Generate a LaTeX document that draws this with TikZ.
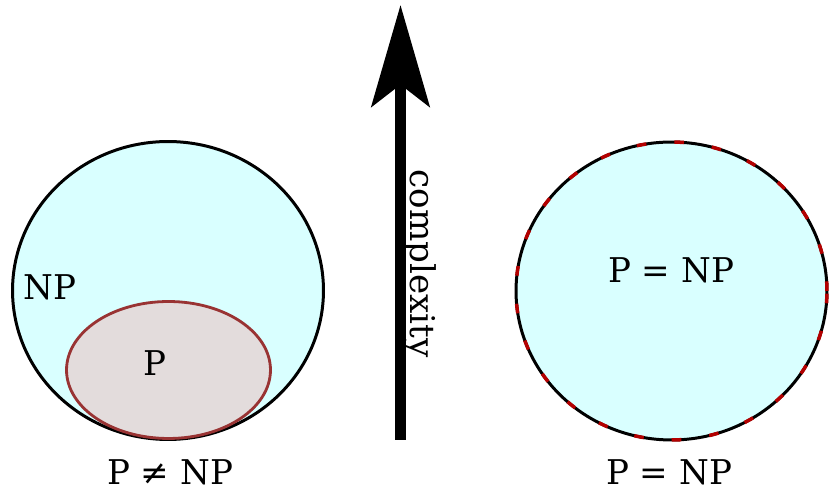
\documentclass[tikz,border=0pt]{standalone}
\usepackage{fontspec}
\setmainfont{DejaVu Serif}
\usetikzlibrary{arrows.meta,positioning,shapes.geometric}
\definecolor{SetCyan}{HTML}{D9FFFF}
\definecolor{PFill}{HTML}{E3DCDC}
\definecolor{PEdge}{HTML}{993333}
\definecolor{DashRed}{HTML}{B30000}

\begin{document}
\begin{tikzpicture}[x=0.02cm,y=-0.02cm,
  set/.style={ellipse,draw=black,line width=1.7pt,fill=SetCyan,inner sep=0pt,minimum width=6.22cm,minimum height=5.96cm},
  psub/.style={ellipse,draw=PEdge,line width=1.6pt,fill=PFill,inner sep=0pt,minimum width=4.08cm,minimum height=2.74cm},
  txt/.style={inner sep=0pt,anchor=base,font=\fontsize{19.4}{23}\selectfont},
  arr/.style={-{Stealth[length=57.8pt,width=33pt,inset=12.5pt]},line width=6.2pt,draw=black}
]
\useasboundingbox (0,0) rectangle (829,492);
% left: P inside NP
\node[set] (np) at (168,290.5) {};
\node[psub] (pset) at (168.5,370) {};
\node[txt] (nplabel) at (50,300) {NP};
\node[txt] (plabel) at (155,376) {P};
\node[txt,text depth=0pt] (neq) at (170,485) {P ≠ NP};
% right: P = NP
\node[set] (eq) at (671.5,291) {};
\draw[DashRed,line width=2pt,dash pattern=on 5.5pt off 16pt] (eq.center) ellipse [x radius=3.11cm,y radius=2.98cm];
\node[txt] (eqin) at (671,283) {P = NP};
\node[txt,text depth=0pt] (eqlabel) at (669,485) {P = NP};
% complexity axis
\coordinate (low) at (400.5,440);
\coordinate (high) at (400.5,5);
\draw[arr] (low) -- (high);
\node[txt,rotate=-90] (axis) at (410,263.5) {complexity};
\end{tikzpicture}
\end{document}
